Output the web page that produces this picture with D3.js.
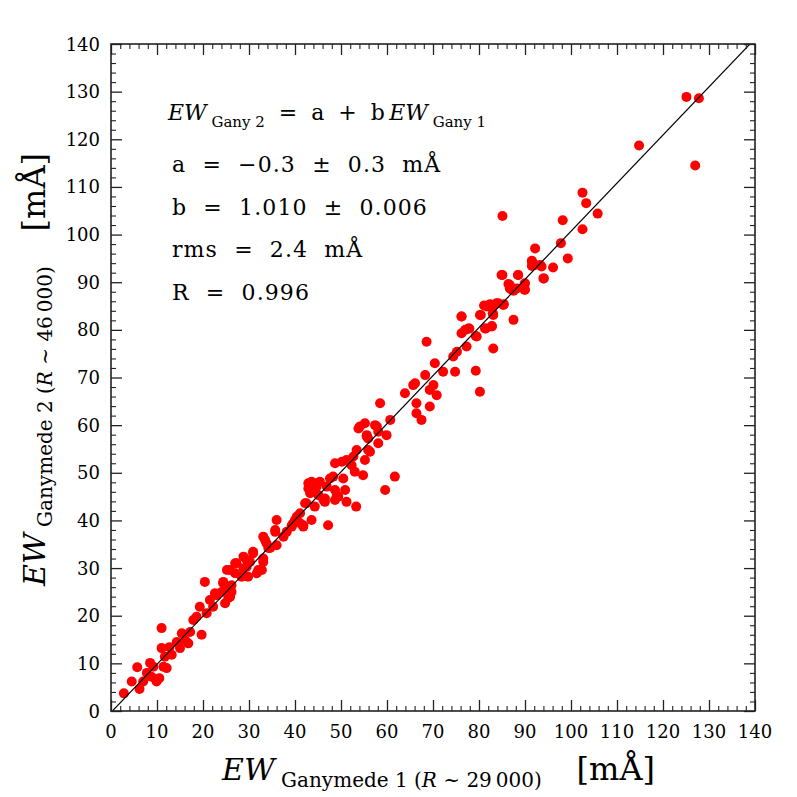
<!DOCTYPE html>
<html>
<head>
<meta charset="utf-8">
<script src="https://cdn.jsdelivr.net/npm/d3@7"></script>
<style>
body { margin: 0; background: #fff; }
text { font-family: "DejaVu Serif", serif; white-space: pre; }
</style>
</head>
<body>
<script>
// EW values, Ganymede 1 (x) and Ganymede 2 (y), in mA
var ew1 = [2.8,4.5,5.7,6.2,7.0,7.8,8.5,9.2,8.8,9.9,10.5,11.0,11.4,12.1,11.0,11.7,12.7,13.2,14.3,15.0,
  15.4,16.1,17.2,16.8,17.9,19.7,18.6,19.3,20.4,20.8,21.5,22.2,23.0,24.1,24.4,24.8,25.5,26.2,25.9,27.0,
  27.3,28.4,29.5,30.2,31.7,32.8,33.1,25.2,27.0,28.8,30.9,32.0,33.1,33.8,34.6,35.7,36.0,37.5,39.3,40.0,
  41.1,41.8,41.1,43.6,42.5,43.3,42.9,43.6,44.7,45.4,44.3,46.2,47.2,47.6,48.3,48.7,49.4,50.9,51.2,48.7,
  50.2,51.2,52.3,52.7,53.0,53.4,53.3,54.8,55.2,56.3,53.8,55.2,55.6,55.9,57.4,58.1,58.1,59.9,60.7,58.5,
  61.7,59.6,63.9,65.7,66.4,66.4,67.5,69.3,69.3,70.8,66.1,68.3,68.6,70.1,70.4,72.2,74.8,74.4,75.2,76.2,
  76.2,77.0,77.7,77.3,79.5,79.3,80.2,80.2,81.3,81.7,82.8,83.1,83.1,83.1,84.2,85.3,87.5,84.9,86.7,88.2,
  87.1,88.5,90.0,90.0,94.0,91.5,92.2,93.3,125.1,127.8,114.8,127.0,85.1,102.5,103.3,105.8,98.2,102.5,97.8,99.3,
  92.2,91.5,91.5,93.6,96.1,94.1,85.1,88.5,86.4,89.9,86.7,87.5,89.9,81.1,82.4,83.8,85.4,80.4,83.0,82.8,
  81.5,76.2,77.9,79.3,
  22.6,24.4,24.8,25.9,26.2,28.8,29.5,29.8,30.9,33.1,33.5,34.2,35.7,36.0,38.2,39.3,40.4,41.8,42.2,43.3,
  44.3,45.1,46.5,49.1,54.1,55.6,57.8,55.9,50.5,42.9,44.0,46.9,46.5,48.7,39.6];
var ew2 = [3.7,6.2,9.2,4.6,6.2,8.0,10.1,9.3,7.2,6.2,6.9,17.4,9.3,9.0,13.2,11.4,13.4,11.8,14.5,13.2,
  16.3,14.9,16.6,14.2,19.1,16.0,19.8,21.9,27.1,20.5,23.3,21.9,24.3,25.0,26.8,22.6,23.7,25.0,29.6,28.9,
  31.0,28.2,30.3,31.3,28.9,29.6,31.3,29.6,31.0,32.4,33.4,29.6,36.6,35.2,34.2,38.0,40.1,36.6,38.7,40.1,
  41.5,38.7,39.4,40.1,43.6,45.7,47.8,48.1,47.1,48.1,42.9,44.3,39.0,48.8,49.2,46.4,45.0,46.4,43.9,52.0,
  52.3,52.7,51.6,53.4,50.2,54.8,42.9,49.5,52.7,54.4,59.3,60.4,57.9,57.2,60.0,58.6,56.2,57.9,61.1,64.6,
  49.2,46.4,66.7,68.4,64.6,62.5,61.1,67.4,63.9,66.3,68.8,70.5,77.5,68.4,73.0,71.2,71.2,74.4,75.4,82.8,
  79.3,80.0,80.3,76.5,78.6,71.4,67.0,83.1,80.3,84.9,80.7,85.2,76.1,83.1,85.6,85.2,82.1,91.5,89.4,88.7,
  88.4,91.5,89.8,88.4,90.8,94.3,93.6,93.6,128.9,128.6,118.7,114.5,103.9,108.8,106.6,104.4,103.0,101.1,98.2,95.0,
  97.1,94.5,93.4,93.3,93.1,90.8,91.5,91.5,89.6,89.6,88.7,88.2,88.4,85.1,85.4,85.6,85.4,83.1,83.5,80.8,
  80.3,82.8,80.3,78.7,
  24.7,27.1,25.4,24.0,26.4,29.9,31.7,28.2,33.1,32.0,35.9,34.2,37.6,34.8,37.6,39.0,40.8,39.0,43.6,47.1,
  47.8,45.3,43.9,45.3,59.7,57.6,59.7,54.8,48.8,46.7,46.4,47.1,44.6,44.3,39.4];

var fitA = -0.3, fitB = 1.010;
var xTicks = d3.range(0, 141, 10);
var yTicks = d3.range(0, 141, 10);
var notes = ["a  =  \u22120.3  \u00b1  0.3  m\u00c5", "b  =  1.010  \u00b1  0.006", "rms  =  2.4  m\u00c5", "R  =  0.996"];

var points = ew1.map(function (v, i) { return {x: v, y: ew2[i]} });

var W = 797, H = 797;
var pl = 111, pr = 755, pt = 44, pb = 711;

var svg = d3.select("body").append("svg")
  .attr("width", W)
  .attr("height", H);

var xscale = d3.scaleLinear().domain([0, 140]).range([pl, pr]);
var yscale = d3.scaleLinear().domain([0, 140]).range([pb, pt]);

svg.append("clipPath").attr("id", "clip")
  .append("rect")
  .attr("x", pl).attr("y", pt)
  .attr("width", pr - pl).attr("height", pb - pt);

// points
svg.append("g")
  .attr("clip-path", "url(#clip)")
  .selectAll("circle")
  .data(points)
  .enter()
  .append("circle")
  .attr("r", 5)
  .attr("fill", "#ff0000")
  .attr("cx", function (p) { return xscale(p.x) })
  .attr("cy", function (p) { return yscale(p.y) });

// fit line
svg.append("line")
  .attr("clip-path", "url(#clip)")
  .attr("x1", xscale(0)).attr("y1", yscale(fitA))
  .attr("x2", xscale(140)).attr("y2", yscale(fitA + fitB * 140))
  .attr("stroke", "#000")
  .attr("stroke-width", 1.2);

// ticks on all four sides, pointing inward
var minor = d3.range(0, 141, 2).filter(function (v) { return v % 10 != 0 });
var sides = [
  {axis: d3.axisBottom(xscale), tr: "translate(0," + pb + ")"},
  {axis: d3.axisTop(xscale), tr: "translate(0," + pt + ")"},
  {axis: d3.axisLeft(yscale), tr: "translate(" + pl + ",0)"},
  {axis: d3.axisRight(yscale), tr: "translate(" + pr + ",0)"}
];
sides.forEach(function (s) {
  var gMaj = svg.append("g").attr("transform", s.tr)
    .call(s.axis.tickValues(xTicks).tickSize(-11).tickFormat(""));
  gMaj.select(".domain").remove();
  gMaj.selectAll("line").attr("stroke", "#222").attr("stroke-width", 1.3);
  var gMin = svg.append("g").attr("transform", s.tr)
    .call(s.axis.tickValues(minor).tickSize(-5).tickFormat(""));
  gMin.select(".domain").remove();
  gMin.selectAll("line").attr("stroke", "#222").attr("stroke-width", 1.1);
});

// frame
svg.append("rect")
  .attr("x", pl).attr("y", pt)
  .attr("width", pr - pl).attr("height", pb - pt)
  .attr("fill", "none")
  .attr("stroke", "#222")
  .attr("stroke-width", 1.6);

// tick labels
svg.append("g").selectAll("text")
  .data(xTicks)
  .enter()
  .append("text")
  .attr("x", function (d) { return xscale(d) })
  .attr("y", 738)
  .attr("text-anchor", "middle")
  .attr("font-size", 18)
  .text(function (d) { return d });

svg.append("g").selectAll("text")
  .data(yTicks)
  .enter()
  .append("text")
  .attr("x", 100)
  .attr("y", function (d) { return yscale(d) + 6.5 })
  .attr("text-anchor", "end")
  .attr("font-size", 18)
  .text(function (d) { return d });

// axis labels: EW + subscript, then unit
var addLabel = function (g, num, res) {
  var t = g.append("text").attr("font-size", 30);
  t.append("tspan").attr("font-style", "italic").text("EW");
  t.append("tspan").attr("dy", 7).attr("font-size", 20).text(" Ganymede " + num + " (");
  t.append("tspan").attr("font-size", 20).attr("font-style", "italic").text("R");
  t.append("tspan").attr("font-size", 20).text(" ~ " + res + ")");
  g.append("text").attr("x", 433).attr("text-anchor", "end")
    .attr("font-size", 32).text("[m\u00c5]");
};
addLabel(svg.append("g").attr("transform", "translate(222,780)"), 1, "29\u2009000");
addLabel(svg.append("g").attr("transform", "translate(45,586) rotate(-90)"), 2, "46\u2009000");

// fit annotation
var eq = svg.append("text").attr("x", 168).attr("y", 120).attr("font-size", 22);
eq.append("tspan").attr("font-style", "italic").text("EW");
eq.append("tspan").attr("dy", 7).attr("font-size", 15).text(" Gany 2");
eq.append("tspan").attr("dy", -7).text("  =  a  +  b\u2009");
eq.append("tspan").attr("font-style", "italic").text("EW");
eq.append("tspan").attr("dy", 7).attr("font-size", 15).text(" Gany 1");

svg.append("g").selectAll("text")
  .data(notes)
  .enter()
  .append("text")
  .attr("x", 172)
  .attr("y", function (d, i) { return 172 + i * 42.7 })
  .attr("font-size", 22)
  .attr("letter-spacing", 1.1)
  .text(function (d) { return d });
</script>
</body>
</html>
